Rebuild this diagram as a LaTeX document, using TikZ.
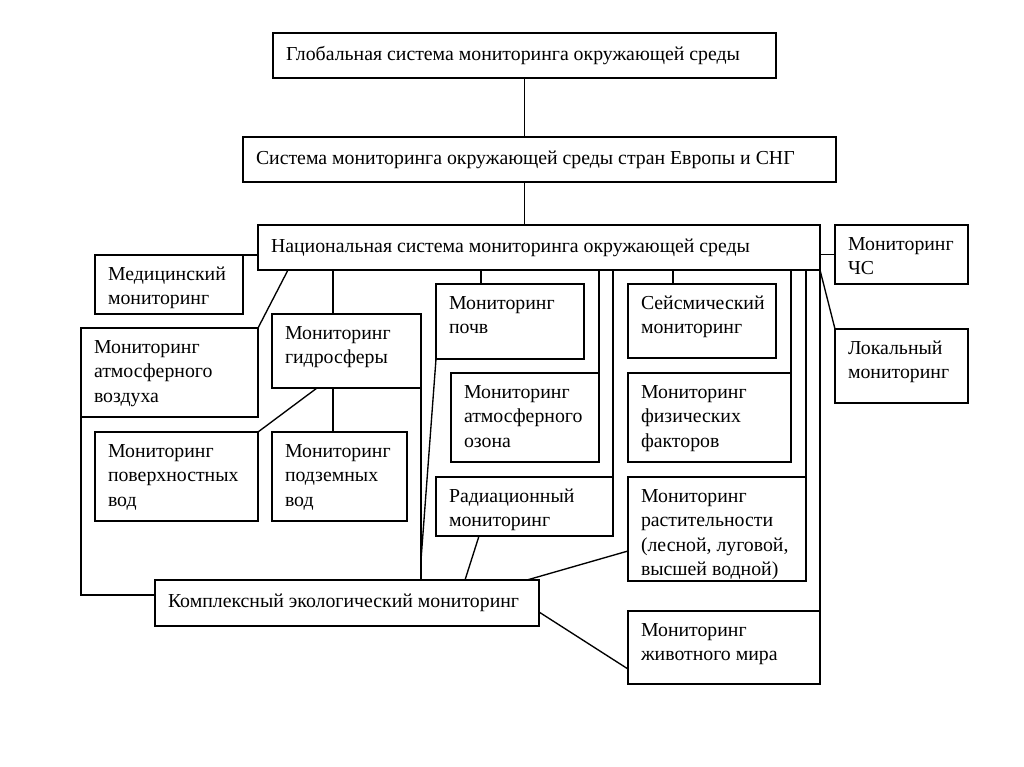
\documentclass[tikz,border=0pt]{standalone}
\usepackage{fontspec}
\setmainfont{Liberation Serif}
\usetikzlibrary{calc}
\tikzset{
  box/.style={draw, line width=1.6pt, inner sep=0pt, outer sep=0pt, anchor=north west},
  link/.style={line width=1.35pt},
}
% name, x1, y1, x2, y2, valign (t or c), text
\newcommand\MyBox[7]{%
  \node[box] (#1) at (#2,#3) {\parbox[c][\dimexpr #5pt-#3pt\relax][#6]{\dimexpr #4pt-#2pt\relax}{%
    \fontsize{19.8}{24.5}\selectfont\ifx t#6\vspace*{8pt}\fi
    \noindent\hspace*{13pt}\begin{tabular}[t]{@{}l@{}}#7\end{tabular}}};%
}
\begin{document}
\begin{tikzpicture}[x=1pt,y=-1pt]
\fill[white] (0,0) rectangle (1024,767);
\useasboundingbox (0,0) rectangle (1024,767);

\MyBox{glob}{273}{33}{776}{78}{c}{Глобальная система мониторинга окружающей среды}
\MyBox{eur}{243}{137}{836}{182}{c}{Система мониторинга окружающей среды стран Европы и СНГ}
\MyBox{nat}{258}{225}{820}{270}{c}{Национальная система мониторинга окружающей среды}
\MyBox{chs}{835}{225}{968}{284}{t}{Мониторинг\\ЧС}
\MyBox{lok}{835}{329}{968}{403}{t}{Локальный\\мониторинг}
\MyBox{med}{95}{255}{243}{314}{t}{Медицинский\\мониторинг}
\MyBox{air}{81}{328}{258}{417}{t}{Мониторинг\\атмосферного\\воздуха}
\MyBox{hyd}{272}{314}{421}{388}{t}{Мониторинг\\гидросферы}
\MyBox{pov}{95}{432}{258}{521}{t}{Мониторинг\\поверхностных\\вод}
\MyBox{pod}{272}{432}{407}{521}{t}{Мониторинг\\подземных\\вод}
\MyBox{pochv}{436}{284}{584}{359}{t}{Мониторинг\\почв}
\MyBox{oz}{451}{373}{599}{462}{t}{Мониторинг\\атмосферного\\озона}
\MyBox{rad}{436}{477}{613}{536}{t}{Радиационный\\мониторинг}
\MyBox{seis}{628}{284}{776}{358}{t}{Сейсмический\\мониторинг}
\MyBox{phys}{628}{373}{791}{462}{t}{Мониторинг\\физических\\факторов}
\MyBox{rast}{628}{477}{806}{581}{t}{Мониторинг\\растительности\\(лесной, луговой,\\высшей водной)}
\MyBox{ziv}{628}{611}{820}{684}{t}{Мониторинг\\животного мира}
\MyBox{kom}{155}{580}{539}{626}{c}{Комплексный экологический мониторинг}

% top chain
\draw[link] (glob.south) -- (glob.south |- eur.north);
\draw[link] (eur.south -| glob.south) -- (nat.north -| glob.south);
% right side
\draw[link] (chs.west) -- (chs.west -| nat.east);
\draw[link] (nat.south east) -- (lok.north west);
% left side
\draw[link] (med.north east) -- (med.north east -| nat.west);
\draw[link] ($(nat.south west)+(30,0)$) -- (air.north east);
\draw[link] (air.south west) |- ($(kom.west)+(0,-8)$);
% hydrosphere
\coordinate (hydtop) at ($(hyd.north west)+(61,0)$);
\draw[link] (hydtop) -- (hydtop |- nat.south);
\coordinate (podtop) at ($(pod.north west)+(61,0)$);
\draw[link] (podtop) -- (podtop |- hyd.south);
\draw[link] ($(hyd.south west)+(45,0)$) -- (pov.north east);
\draw[link] (hyd.south east) -- (hyd.south east |- kom.north);
% soil
\coordinate (pochvtop) at ($(pochv.north west)+(45,0)$);
\draw[link] (pochvtop) -- (pochvtop |- nat.south);
\draw[link] (pochv.south west) -- ($(hyd.south east |- kom.north)+(0,-20)$);
% ozone, radiation
\draw[link] (oz.north east) -- (oz.north east |- nat.south);
\draw[link] (rad.north east) -- (rad.north east |- nat.south);
% right column
\coordinate (seistop) at ($(seis.north west)+(45,0)$);
\draw[link] (seistop) -- (seistop |- nat.south);
\draw[link] (phys.north east) -- (phys.north east |- nat.south);
\draw[link] (rast.north east) -- (rast.north east |- nat.south);
\draw[link] (ziv.north east) -- (ziv.north east |- nat.south);
% to complex monitoring
\draw[link] ($(rad.south west)+(43,0)$) -- ($(kom.north west)+(310,0)$);
\draw[link] ($(rast.south west)+(0,-30)$) -- ($(kom.north west)+(372,0)$);
\draw[link] ($(kom.north east)+(0,32)$) -- ($(ziv.south west)+(0,-15)$);
\end{tikzpicture}
\end{document}
